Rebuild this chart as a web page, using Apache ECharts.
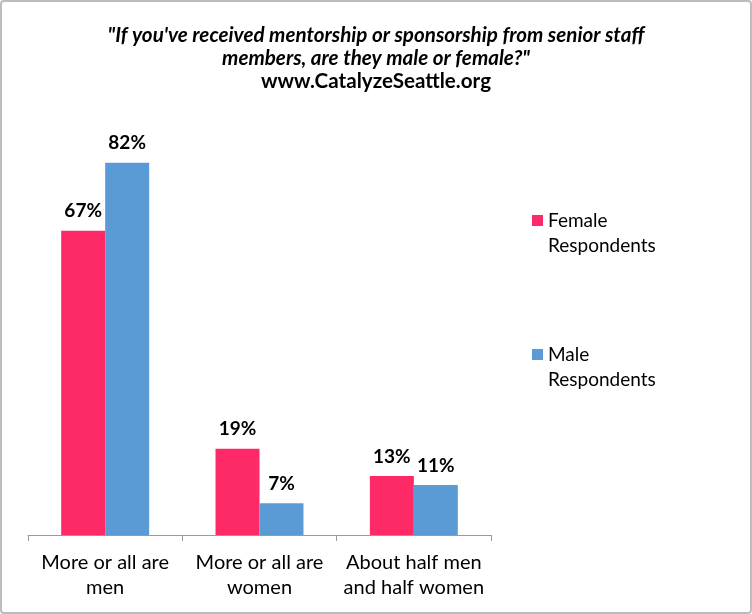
<!DOCTYPE html>
<html><head><meta charset="utf-8">
<script src="https://cdn.jsdelivr.net/npm/echarts@6/dist/echarts.min.js"></script>
<style>html,body{margin:0;padding:0;background:#fff}#c{width:752px;height:614px}</style>
</head><body><div id="c"></div>
<script>
const categories = ['More or all are\nmen', 'More or all are\nwomen', 'About half men\nand half women'];
const femaleValues = [67, 19, 13];
const maleValues = [82, 7, 11];
const seriesNames = ['Female Respondents', 'Male Respondents'];
const titleLines = ["\"If you've received mentorship or sponsorship from senior staff", "members, are they male or female?\""];
const subtitle = 'www.CatalyzeSeattle.org';

const FONT = 'Lato, "Open Sans", sans-serif';
const chart = echarts.init(document.getElementById('c'));
const labelCfg = {show: true, position: 'top', distance: 10, formatter: '{c}%', color: '#000', fontWeight: 'bold', fontSize: 19, fontFamily: FONT};
chart.setOption({
  animation: false,
  backgroundColor: '#fff',
  graphic: [{type: 'rect', shape: {x: 1, y: 1, width: 750, height: 612, r: 3}, style: {fill: 'none', stroke: '#bdbdbd', lineWidth: 2}, silent: true}],
  title: {
    text: titleLines.join('\n'), subtext: subtitle, left: 'center', top: 19, itemGap: 0,
    textStyle: {fontFamily: FONT, fontSize: 20.6, fontWeight: 'bold', fontStyle: 'italic', color: '#000', lineHeight: 23},
    subtextStyle: {fontFamily: FONT, fontSize: 20.6, fontWeight: 'bold', color: '#000', lineHeight: 23}
  },
  legend: {
    orient: 'vertical', left: 532, top: 183, padding: 0, itemWidth: 11, itemHeight: 11, itemGap: 59,
    icon: 'rect', data: seriesNames,
    formatter: n => '\n' + n.replace(' ', '\n'),
    textStyle: {fontFamily: FONT, fontSize: 19, color: '#000', lineHeight: 25}
  },
  grid: {left: 28, right: 261, top: 81, bottom: 79},
  xAxis: {
    type: 'category', data: categories,
    axisLine: {lineStyle: {color: '#9a9a9a', width: 1}},
    axisTick: {show: true, length: 6, lineStyle: {color: '#9a9a9a'}},
    axisLabel: {interval: 0, fontFamily: FONT, fontSize: 20, color: '#000', lineHeight: 25, margin: 15}
  },
  yAxis: {type: 'value', min: 0, max: 100, show: false, splitLine: {show: false}},
  series: [
    {name: seriesNames[0], type: 'bar', data: femaleValues, barGap: '0%', barCategoryGap: '43%', itemStyle: {color: '#FE2A67'}, label: labelCfg},
    {name: seriesNames[1], type: 'bar', data: maleValues, itemStyle: {color: '#5B9BD5'}, label: labelCfg}
  ]
});
</script></body></html>
